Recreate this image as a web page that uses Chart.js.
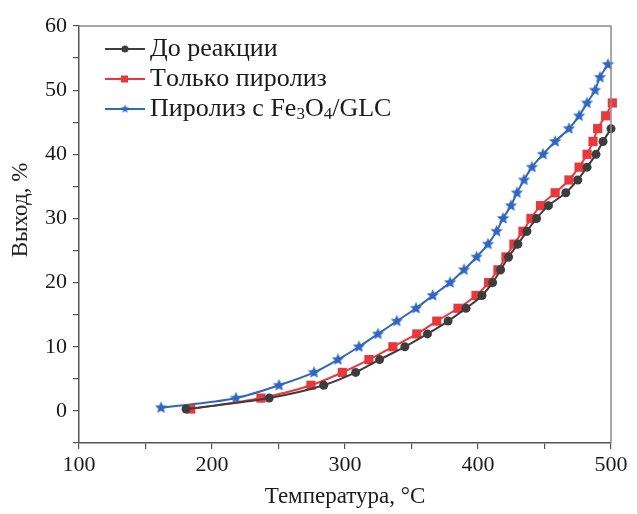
<!DOCTYPE html>
<html>
<head>
<meta charset="utf-8">
<script src="https://cdn.jsdelivr.net/npm/chart.js@4.4.1/dist/chart.umd.min.js"></script>
<style>
html,body{margin:0;padding:0;background:#fff;}
#wrap{width:637px;height:514px;position:relative;}
</style>
</head>
<body>
<div id="wrap"><canvas id="c" width="637" height="514"></canvas></div>
<script>
// ---- data ----
const tempBefore = [180.5, 243, 284, 308, 326, 345, 362, 377.5, 391, 403, 411, 417, 423, 430, 436.8, 444, 453, 466, 475, 482, 488.7, 494, 500];
const yieldBefore = [0.3, 2, 4, 6, 8, 10, 12, 14, 16, 18, 20, 22, 24, 26, 28, 30, 32, 34, 36, 38, 40, 42, 44];

const tempPyro = [184, 236.8, 274.4, 298, 318, 336, 354, 369, 385, 398.5, 408, 415, 421, 427, 433.8, 439.8, 447, 458, 468.4, 476, 482, 486.5, 490, 496, 501];
const yieldPyro = [0.3, 2, 4, 6, 8, 10, 12, 14, 16, 18, 20, 22, 24, 26, 28, 30, 32, 34, 36, 38, 40, 42, 44, 46, 48];

const tempFe = [161.7, 218, 250.4, 276.7, 294.7, 310.5, 324.8, 339, 353.4, 366, 379, 389.5, 399, 407.5, 414, 418.8, 424.8, 429.3, 434.6, 440.6, 448.9, 458, 468.4, 476, 482, 488, 491.7, 497.7];
const yieldFe = [0.5, 2, 4, 6, 8, 10, 12, 14, 16, 18, 20, 22, 24, 26, 28, 30, 32, 34, 36, 38, 40, 42, 44, 46, 48, 50, 52, 54];

const seriesLabels = ['До реакции', 'Только пиролиз', 'Пиролиз с Fe3O4/GLC'];
const xTitle = 'Температура, °C';
const yTitle = 'Выход, %';

// ---- styles ----
const FONT = "'Liberation Serif', 'Times New Roman', serif";
const cGray = '#3d3d3d', cRed = '#e8383c', cBlue = '#2e66c2';

function starCanvas(color, R) {
  const s = Math.ceil(R * 2 + 2);
  const cv = document.createElement('canvas');
  cv.width = s; cv.height = s;
  const g = cv.getContext('2d');
  g.fillStyle = color;
  g.beginPath();
  const r = R * 0.45;
  for (let i = 0; i < 10; i++) {
    const rr = i % 2 === 0 ? R : r;
    const a = -Math.PI / 2 + i * Math.PI / 5;
    const px = s / 2 + rr * Math.cos(a), py = s / 2 + rr * Math.sin(a);
    if (i === 0) g.moveTo(px, py); else g.lineTo(px, py);
  }
  g.closePath();
  g.fill();
  return cv;
}
const starBig = starCanvas(cBlue, 6.5);
const starSmall = starCanvas(cBlue, 4.5);

function pts(xs, ys) { return xs.map((x, i) => ({x: x, y: ys[i]})); }

const framePlugin = {
  id: 'frame',
  afterDraw(chart) {
    const {ctx, chartArea: a} = chart;
    ctx.save();
    ctx.strokeStyle = '#8c8c8c';
    ctx.lineWidth = 1.5;
    ctx.beginPath();
    ctx.moveTo(a.left, a.top);
    ctx.lineTo(a.right, a.top);
    ctx.lineTo(a.right, a.bottom);
    ctx.stroke();
    ctx.restore();
  }
};

const yTitlePlugin = {
  id: 'ytitle',
  afterDraw(chart) {
    const ctx = chart.ctx;
    ctx.save();
    ctx.translate(21, 210);
    ctx.rotate(-Math.PI / 2);
    ctx.font = "23px " + FONT;
    ctx.fillStyle = '#222';
    ctx.textAlign = 'center';
    ctx.textBaseline = 'middle';
    ctx.fillText(yTitle, 0, 0);
    ctx.restore();
  }
};

const legendPlugin = {
  id: 'customLegend',
  afterDraw(chart) {
    const ctx = chart.ctx;
    const rows = [49, 79, 109];
    const fs = 26;
    chart.data.datasets.forEach((ds, i) => {
      const y = rows[i];
      ctx.save();
      ctx.strokeStyle = ds.borderColor;
      ctx.lineWidth = 2;
      ctx.beginPath();
      ctx.moveTo(105, y); ctx.lineTo(145, y);
      ctx.stroke();
      ctx.fillStyle = ds.borderColor;
      if (i === 0) {
        ctx.beginPath(); ctx.arc(125, y, 3.5, 0, Math.PI * 2); ctx.fill();
      } else if (i === 1) {
        ctx.fillRect(121, y - 3.5, 7, 7);
      } else {
        ctx.drawImage(starSmall, 125 - starSmall.width / 2, y - starSmall.height / 2);
      }
      // text with subscripts for digits following letters
      const label = ds.label;
      let x = 150;
      ctx.fillStyle = '#1a1a1a';
      ctx.textBaseline = 'middle';
      ctx.textAlign = 'left';
      for (let k = 0; k < label.length; k++) {
        const ch = label[k];
        const sub = /[0-9]/.test(ch) && k > 0 && /[A-Za-z]/.test(label[k - 1]);
        if (sub) {
          ctx.font = Math.round(fs * 0.65) + "px " + FONT;
          ctx.fillText(ch, x, y + 6);
        } else {
          ctx.font = fs + "px " + FONT;
          ctx.fillText(ch, x, y);
        }
        x += ctx.measureText(ch).width;
      }
      ctx.restore();
    });
  }
};

const commonLine = {
  borderWidth: 2,
  cubicInterpolationMode: 'monotone',
  clip: false
};

new Chart(document.getElementById('c'), {
  type: 'line',
  data: {
    datasets: [
      Object.assign({
        label: seriesLabels[0],
        data: pts(tempBefore, yieldBefore),
        borderColor: cGray, backgroundColor: cGray,
        pointStyle: 'circle', pointRadius: 4.5, pointBorderWidth: 0
      }, commonLine),
      Object.assign({
        label: seriesLabels[1],
        data: pts(tempPyro, yieldPyro),
        borderColor: cRed, backgroundColor: cRed,
        pointStyle: 'rect', pointRadius: 6.5, pointBorderWidth: 0
      }, commonLine),
      Object.assign({
        label: seriesLabels[2],
        data: pts(tempFe, yieldFe),
        borderColor: cBlue, backgroundColor: cBlue,
        pointStyle: starBig, pointRadius: 6, pointBorderWidth: 0
      }, commonLine)
    ]
  },
  options: {
    responsive: false,
    animation: false,
    devicePixelRatio: 1,
    layout: {padding: {top: 26, right: 26, left: 0, bottom: 0}},
    plugins: {legend: {display: false}, tooltip: {enabled: false}},
    scales: {
      x: {
        type: 'linear', min: 100, max: 500,
        afterFit(s) { s.height = 71; },
        ticks: {
          stepSize: 50,
          autoSkip: false,
          maxRotation: 0,
          padding: 3,
          color: '#1a1a1a',
          font: {family: FONT, size: 22},
          callback: v => (v % 100 === 0 ? String(v) : '')
        },
        grid: {display: true, drawOnChartArea: false, drawTicks: true, tickLength: 6, color: '#555', lineWidth: 1.2},
        border: {display: true, color: '#555', width: 1.5},
        title: {display: true, text: xTitle, color: '#1a1a1a', font: {family: FONT, size: 23}, padding: {top: 0, bottom: 3}}
      },
      y: {
        type: 'linear', min: -5, max: 60,
        afterFit(s) { s.width = 79; },
        ticks: {
          stepSize: 5,
          autoSkip: false,
          padding: 6,
          color: '#1a1a1a',
          font: {family: FONT, size: 22},
          callback: v => (v % 10 === 0 && v >= 0 ? String(v) : '')
        },
        grid: {display: true, drawOnChartArea: false, drawTicks: true, tickLength: 6, color: '#555', lineWidth: 1.2},
        border: {display: true, color: '#555', width: 1.5}
      }
    }
  },
  plugins: [framePlugin, yTitlePlugin, legendPlugin]
});
</script>
</body>
</html>
